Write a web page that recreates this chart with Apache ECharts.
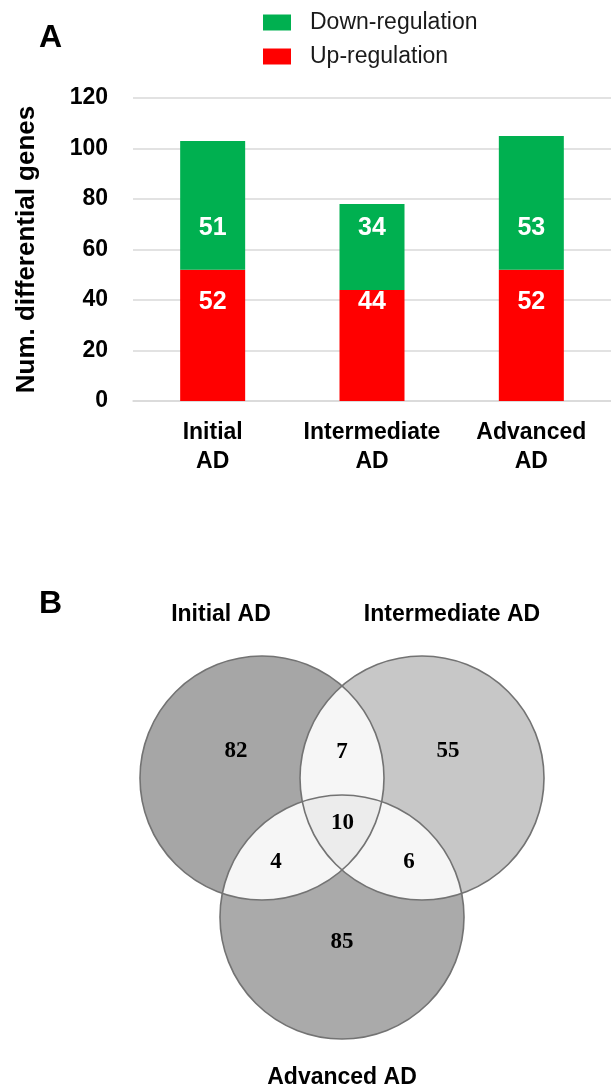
<!DOCTYPE html>
<html>
<head>
<meta charset="utf-8">
<script src="https://cdn.jsdelivr.net/npm/echarts@6/dist/echarts.min.js"></script>
<style>html,body{margin:0;padding:0;background:#fff}#c{width:611px;height:1091px}</style>
</head>
<body>
<div id="c"></div>
<script>
// ---------- data ----------
const categories = ['Initial\nAD', 'Intermediate\nAD', 'Advanced\nAD'];
const upValues = [52, 44, 52];
const downValues = [51, 34, 53];
const yTicks = [0, 20, 40, 60, 80, 100, 120];
const seriesNames = ['Up-regulation', 'Down-regulation'];

const vennSets = ['Initial AD', 'Intermediate AD', 'Advanced AD'];
const vennRegions = ['1', '2', '3', '12', '13', '23', '123'];
const vennCounts = [82, 55, 85, 7, 4, 6, 10];

// ---------- layout (pixel-like units of a hidden full-page grid) ----------
const barLabelLevel = { up: 39.3, down: 68.6 };   // axis units where labels sit
const vennCircles = [
  { cx: 262, cy: 778, r: 122 },
  { cx: 422, cy: 778, r: 122 },
  { cx: 342, cy: 917, r: 122 }
];
const vennLabelPos = {
  '1': [236, 751], '2': [448, 751], '3': [342, 942],
  '12': [342, 752], '13': [276, 862], '23': [409, 862], '123': [342.5, 823]
};
const vennSetLabelPos = [[221, 615], [452, 615], [342, 1078]];
const regionFill = {
  '1': '#a6a6a6', '2': '#c7c7c7', '3': '#aaaaaa',
  '12': '#f6f6f6', '13': '#f6f6f6', '23': '#f6f6f6', '123': '#ececec'
};

const chart = echarts.init(document.getElementById('c'), null, { renderer: 'canvas' });
const SANS = 'Liberation Sans, Arial, sans-serif';
const SERIF = 'Liberation Serif, Times New Roman, serif';

function regionShape(key, api) {
  const cs = vennCircles.map(c => {
    const p = api.coord([c.cx, c.cy]);
    const r = Math.abs(api.size([c.r, 0])[0]);
    return { x: p[0], y: p[1], r: r };
  });
  const idx = key.split('').map(k => +k - 1);
  if (idx.length === 1) {
    const c = cs[idx[0]];
    return { type: 'circle', shape: { cx: c.x, cy: c.y, r: c.r }, style: { fill: regionFill[key] } };
  }
  const pts = [];
  const N = 1440;
  idx.forEach(i => {
    const c = cs[i];
    for (let k = 0; k < N; k++) {
      const a = k / N * Math.PI * 2;
      const x = c.x + c.r * Math.cos(a), y = c.y + c.r * Math.sin(a);
      let ok = true;
      idx.forEach(j => {
        if (j === i) return;
        const d = Math.hypot(x - cs[j].x, y - cs[j].y);
        if (d > cs[j].r + 0.05) ok = false;
      });
      if (ok) pts.push([x, y]);
    }
  });
  let mx = 0, my = 0;
  pts.forEach(p => { mx += p[0]; my += p[1]; });
  mx /= pts.length; my /= pts.length;
  pts.sort((a, b) => Math.atan2(a[1] - my, a[0] - mx) - Math.atan2(b[1] - my, b[0] - mx));
  return { type: 'polygon', shape: { points: pts }, style: { fill: regionFill[key] } };
}

const option = {
  animation: false,
  backgroundColor: '#ffffff',
  legend: {
    data: ['Down-regulation', 'Up-regulation'],
    orient: 'vertical',
    left: 263, top: 11, padding: 0,
    itemWidth: 28, itemHeight: 16, itemGap: 11,
    icon: 'rect',
    textStyle: { fontFamily: SANS, fontSize: 23, color: '#1a1a1a', lineHeight: 23, padding: [0, 0, 0, 14] }
  },
  grid: [
    { left: 133, top: 98, width: 486, height: 303 },
    { left: 0, top: 0, width: 611, height: 1091, show: false }
  ],
  xAxis: [
    {
      type: 'category', data: categories, gridIndex: 0,
      axisLine: { lineStyle: { color: '#d9d9d9', width: 1.5 } },
      axisTick: { show: false },
      axisLabel: { fontFamily: SANS, fontWeight: 'bold', fontSize: 23, color: '#000', lineHeight: 29, margin: 17, interval: 0 }
    },
    { type: 'value', gridIndex: 1, min: 0, max: 611, show: false }
  ],
  yAxis: [
    {
      type: 'value', gridIndex: 0, min: yTicks[0], max: yTicks[yTicks.length - 1], interval: 20,
      name: 'Num. differential genes', nameLocation: 'middle', nameGap: 93, nameRotate: 90,
      nameTextStyle: { fontFamily: SANS, fontWeight: 'bold', fontSize: 26, color: '#000' },
      axisLine: { show: false }, axisTick: { show: false },
      splitLine: { lineStyle: { color: '#d9d9d9', width: 1.5 } },
      axisLabel: { fontFamily: SANS, fontWeight: 'bold', fontSize: 23, color: '#000', margin: 25 }
    },
    { type: 'value', gridIndex: 1, min: 0, max: 1091, inverse: true, show: false }
  ],
  series: [
    {
      name: seriesNames[0], type: 'bar', stack: 'g', xAxisIndex: 0, yAxisIndex: 0,
      data: upValues, barWidth: 65, itemStyle: { color: '#ff0000' }
    },
    {
      name: seriesNames[1], type: 'bar', stack: 'g', xAxisIndex: 0, yAxisIndex: 0,
      data: downValues, barWidth: 65, itemStyle: { color: '#00b050' }
    },
    {
      type: 'scatter', xAxisIndex: 0, yAxisIndex: 0, symbolSize: 0, silent: true, z: 5,
      itemStyle: { opacity: 1 },
      data: categories.map((c, i) => [i, barLabelLevel.up]).concat(categories.map((c, i) => [i, barLabelLevel.down])),
      label: {
        show: true, position: 'inside', opacity: 1,
        fontFamily: SANS, fontWeight: 'bold', fontSize: 25, color: '#ffffff',
        formatter: p => String(p.dataIndex < 3 ? upValues[p.dataIndex] : downValues[p.dataIndex - 3])
      }
    },
    {
      type: 'custom', xAxisIndex: 1, yAxisIndex: 1, silent: true, z: 2,
      data: vennRegions.map((k, i) => [vennLabelPos[k][0], vennLabelPos[k][1], vennCounts[i]]),
      renderItem: (params, api) => regionShape(vennRegions[params.dataIndex], api)
    },
    {
      type: 'custom', xAxisIndex: 1, yAxisIndex: 1, silent: true, z: 3,
      data: vennCircles.map(c => [c.cx, c.cy]),
      renderItem: (params, api) => {
        const c = vennCircles[params.dataIndex];
        const p = api.coord([c.cx, c.cy]);
        const r = Math.abs(api.size([c.r, 0])[0]);
        return { type: 'circle', shape: { cx: p[0], cy: p[1], r: r }, style: { fill: null, stroke: '#737373', lineWidth: 1.6 } };
      }
    },
    {
      type: 'scatter', xAxisIndex: 1, yAxisIndex: 1, symbolSize: 0, silent: true, z: 4,
      itemStyle: { opacity: 1 },
      data: vennRegions.map((k, i) => [vennLabelPos[k][0], vennLabelPos[k][1], vennCounts[i]]),
      label: {
        show: true, position: 'inside', opacity: 1,
        fontFamily: SERIF, fontWeight: 'bold', fontSize: 23, color: '#000000',
        formatter: p => String(vennCounts[p.dataIndex])
      }
    },
    {
      type: 'scatter', xAxisIndex: 1, yAxisIndex: 1, symbolSize: 0, silent: true, z: 4,
      itemStyle: { opacity: 1 },
      data: vennSets.map((s, i) => vennSetLabelPos[i]),
      label: {
        show: true, position: 'inside', opacity: 1,
        fontFamily: SANS, fontWeight: 'bold', fontSize: 23, color: '#000000',
        formatter: p => vennSets[p.dataIndex]
      }
    }
  ],
  graphic: [
    { type: 'text', left: 39, top: 22, style: { text: 'A', fontFamily: SANS, fontWeight: 'bold', fontSize: 32, fill: '#000' } },
    { type: 'text', left: 39, top: 588, style: { text: 'B', fontFamily: SANS, fontWeight: 'bold', fontSize: 32, fill: '#000' } }
  ]
};
chart.setOption(option);
</script>
</body>
</html>
